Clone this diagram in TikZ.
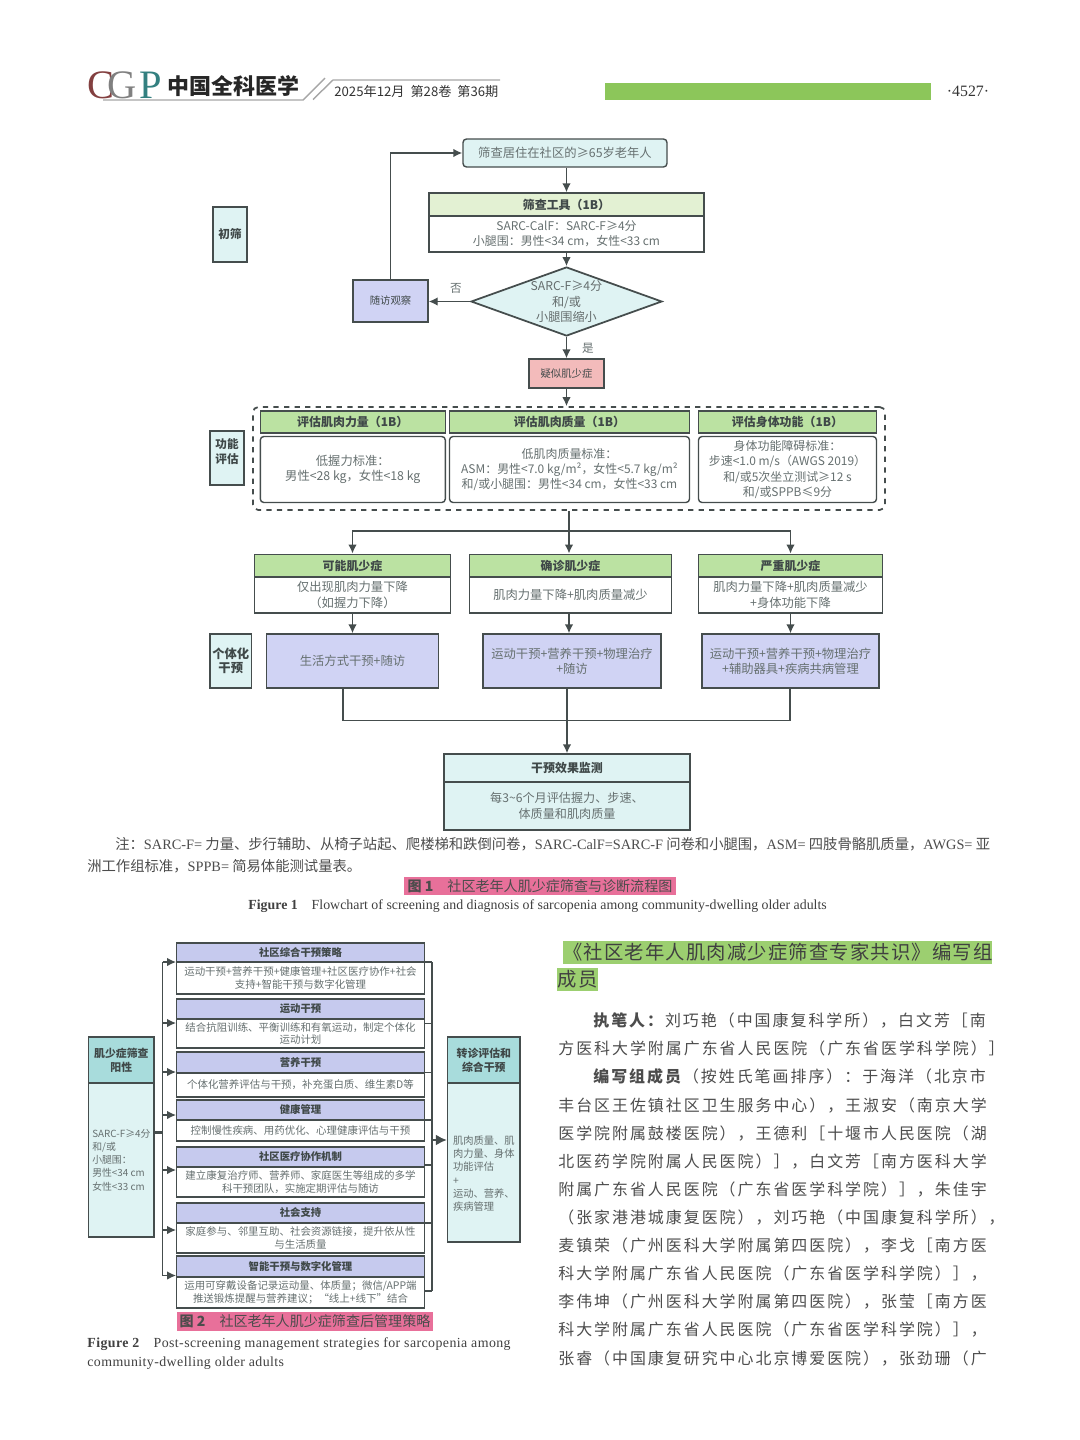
\documentclass[tikz,border=0pt]{standalone}
\usepackage{fontspec}
\usepackage{amsmath}
\setmainfont{Noto Sans CJK SC}
\newfontfamily\latfont{Liberation Serif}
\newfontfamily\spreadlat[LetterSpace=3]{Liberation Serif}
\newfontfamily\spreadfont[LetterSpace=12.5]{Noto Sans CJK SC}
\newfontfamily\titlefont[LetterSpace=6]{Noto Sans CJK SC}
\usetikzlibrary{positioning, calc, arrows.meta, shapes.geometric}
\definecolor{linegray}{HTML}{454D4D}
\definecolor{textgray}{HTML}{667070}
\definecolor{darkgray}{HTML}{3F4848}
\definecolor{paleteal}{HTML}{DFF3F3}
\definecolor{midteal}{HTML}{A8DCDC}
\definecolor{palegreen}{HTML}{E3F1D3}
\definecolor{midgreen}{HTML}{BBE2A2}
\definecolor{lilac}{HTML}{D0D3F4}
\definecolor{midlilac}{HTML}{C6CAEE}
\definecolor{rosebox}{HTML}{F3BBBB}
\definecolor{pinkcap}{HTML}{E8709A}
\definecolor{barmark}{HTML}{8CC65A}
\definecolor{softmark}{HTML}{9CCF70}
\newcommand{\lat}[1]{{\latfont #1}}

\begin{document}
\begin{tikzpicture}[
        link/.style={draw=linegray, line width=0.8pt},
        flow/.style={link, -{Latex[length=1.8mm,width=1.7mm]}},
        heavy/.style={draw=linegray, line width=1.5pt},
        frame/.style={draw=linegray, line width=0.8pt, inner sep=0pt, align=center},
        side/.style={frame, fill=paleteal, text=darkgray, font=\fontsize{6.6}{8.2}\selectfont\bfseries},
        head/.style={frame, fill=midgreen, text=darkgray, font=\fontsize{6.8}{8.6}\selectfont\bfseries},
        plain/.style={frame, fill=white, text=textgray, font=\fontsize{7}{8.7}\selectfont},
        care/.style={frame, fill=lilac, text=textgray, font=\fontsize{7}{8.7}\selectfont},
        strategy/.style={frame, fill=midlilac, text=darkgray, minimum width=4.95cm, font=\fontsize{5.9}{7.4}\selectfont\bfseries},
        detail/.style={frame, fill=white, text=textgray, minimum width=4.95cm, font=\fontsize{5.95}{7.3}\selectfont},
        caption/.style={inner sep=0pt, text=black!75, font=\fontsize{7.9}{9}\selectfont\latfont},
        note/.style={inner sep=0pt, anchor=west, text=black!70, font=\fontsize{8.15}{9}\selectfont},
        pinkbar/.style={fill=pinkcap, inner sep=0pt, text=black!70, font=\fontsize{8}{9}\selectfont}
    ]
        \useasboundingbox (0,0) rectangle (21.6,-28.8);

        % Journal header
        \node[inner sep=0pt, text=red!35!black!75, font=\fontsize{23}{23}\selectfont\latfont] (logoc) at (2.02,-1.7) {C};
        \node[inner sep=0pt, text=gray, font=\fontsize{23}{23}\selectfont\latfont] (logog) at (2.44,-1.7) {G};
        \node[inner sep=0pt, text=teal!60!gray, font=\fontsize{23}{23}\selectfont\latfont] (logop) at (3.01,-1.7) {P};
        \node[inner sep=0pt, text=black!85, font=\fontsize{12.5}{14}\selectfont\bfseries] (journal) at (4.67,-1.72) {中国全科医学};
        \draw[gray!70, line width=0.8pt] (2.06,-2.0) -- (6.06,-2.0) -- (6.5,-1.56);
        \draw[gray!70, line width=0.8pt] (6.26,-1.99) -- (6.66,-1.6) -- (10,-1.6);
        \node[note, text=black!80, font=\fontsize{7.5}{9}\selectfont] (issue) at (6.68,-1.82) {2025年12月\ \ 第28卷\ \ 第36期};
        \node[fill=barmark, minimum width=6.52cm, minimum height=0.34cm, inner sep=0pt] (bar) at (15.36,-1.83) {};
        \node[inner sep=0pt, text=black!80, font=\fontsize{9}{9}\selectfont\latfont] (folio) at (19.36,-1.83) {·4527·};

        % Screening column
        \node[frame, rounded corners=2pt, fill=paleteal, text=textgray, minimum width=4.08cm, minimum height=0.56cm, font=\fontsize{7}{9}\selectfont] (start) at (11.30,-3.06) {筛查居住在社区的≥65岁老年人};
        \node[head, fill=palegreen, minimum width=5.5cm, minimum height=0.46cm] (toolh) at (11.33,-4.09) {筛查工具（1B）};
        \node[plain, minimum width=5.5cm, minimum height=0.72cm, font=\fontsize{6.8}{8.7}\selectfont] (toolb) at (11.33,-4.68) {SARC-CalF：SARC-F≥4分\\小腿围：男性<34 cm，女性<33 cm};
        \node[diamond, draw=linegray, line width=1pt, fill=paleteal, aspect=2.77, inner sep=0pt, minimum width=3.82cm, minimum height=1.38cm, align=center, text=darkgray!80, font=\fontsize{6.9}{8.7}\selectfont] (check) at (11.33,-6.03) {SARC-F≥4分\\和/或\\小腿围缩小};
        \node[care, text=darkgray, minimum width=1.5cm, minimum height=0.84cm, font=\fontsize{5.9}{8}\selectfont] (follow) at (7.81,-6.02) {随访观察};
        \node[frame, fill=rosebox, text=darkgray, minimum width=1.5cm, minimum height=0.58cm, font=\fontsize{5.9}{8}\selectfont] (suspect) at (11.33,-7.47) {疑似肌少症};
        \node[inner sep=0pt, text=textgray, font=\fontsize{6.6}{8}\selectfont] (nolabel) at (9.12,-5.76) {否};
        \node[inner sep=0pt, text=textgray, font=\fontsize{6.6}{8}\selectfont] (yeslabel) at (11.76,-6.96) {是};

        % Stage labels
        \node[side, minimum width=0.68cm, minimum height=1.1cm] (stage1) at (4.60,-4.69) {初筛};
        \node[side, minimum width=0.68cm, minimum height=1.08cm] (stage2) at (4.54,-9.16) {功能\\评估\rule[-0.28cm]{0pt}{0pt}};
        \node[side, minimum width=0.83cm, minimum height=1.08cm, font=\fontsize{7}{8.2}\selectfont\bfseries] (stage3) at (4.615,-13.22) {个体化\\干预};

        % Assessment row
        \node[draw=linegray, line width=1pt, dashed, rounded corners=3pt, inner sep=0pt, minimum width=12.64cm, minimum height=2.06cm] (assess) at (11.38,-9.17) {};
        \node[head, minimum width=3.70cm, minimum height=0.44cm] (a1h) at (7.056,-8.44) {评估肌肉力量（1B）};
        \node[plain, rounded corners=2pt, minimum width=3.70cm, minimum height=1.32cm] (a1b) at (7.056,-9.39) {低握力标准：\\男性<28 kg，女性<18 kg};
        \node[head, minimum width=4.80cm, minimum height=0.44cm] (a2h) at (11.39,-8.44) {评估肌肉质量（1B）};
        \node[plain, rounded corners=2pt, minimum width=4.80cm, minimum height=1.32cm, font=\fontsize{6.8}{8.7}\selectfont] (a2b) at (11.39,-9.39) {低肌肉质量标准：\\ASM：男性<7.0 kg/m²，女性<5.7 kg/m²\\和/或小腿围：男性<34 cm，女性<33 cm};
        \node[head, minimum width=3.56cm, minimum height=0.44cm] (a3h) at (15.75,-8.44) {评估身体功能（1B）};
        \node[plain, rounded corners=2pt, minimum width=3.56cm, minimum height=1.32cm, font=\fontsize{6.8}{8.7}\selectfont] (a3b) at (15.75,-9.39) {身体功能障碍标准：\\步速<1.0 m/s（AWGS 2019）\\和/或5次坐立测试≥12 s\\和/或SPPB≤9分};

        % Diagnosis row
        \node[head, minimum width=3.92cm, minimum height=0.45cm] (d1h) at (7.05,-11.31) {可能肌少症};
        \node[plain, minimum width=3.92cm, minimum height=0.72cm] (d1b) at (7.05,-11.90) {仅出现肌肉力量下降\\（如握力下降）};
        \node[head, minimum width=4.05cm, minimum height=0.45cm] (d2h) at (11.41,-11.31) {确诊肌少症};
        \node[plain, minimum width=4.05cm, minimum height=0.72cm] (d2b) at (11.41,-11.90) {肌肉力量下降+肌肉质量减少};
        \node[head, minimum width=3.69cm, minimum height=0.45cm] (d3h) at (15.81,-11.31) {严重肌少症};
        \node[plain, minimum width=3.69cm, minimum height=0.72cm] (d3b) at (15.81,-11.90) {肌肉力量下降+肌肉质量减少\\+身体功能下降};

        % Intervention row
        \node[care, minimum width=3.43cm, minimum height=1.08cm] (i1) at (7.05,-13.22) {生活方式干预+随访};
        \node[care, minimum width=3.56cm, minimum height=1.08cm] (i2) at (11.44,-13.22) {运动干预+营养干预+物理治疗\\+随访};
        \node[care, minimum width=3.54cm, minimum height=1.08cm] (i3) at (15.81,-13.22) {运动干预+营养干预+物理治疗\\+辅助器具+疾病共病管理};

        % Monitoring box
        \node[frame, fill=paleteal, text=darkgray, minimum width=4.92cm, minimum height=0.56cm, font=\fontsize{6.8}{8.6}\selectfont\bfseries] (monh) at (11.34,-15.36) {干预效果监测};
        \node[frame, fill=paleteal, text=textgray, minimum width=4.92cm, minimum height=0.96cm, font=\fontsize{6.9}{8.7}\selectfont] (monb) at (11.34,-16.12) {每3\textasciitilde 6个月评估握力、步速、\\体质量和肌肉质量};

        % Connectors of figure 1
        \coordinate (split) at (11.38,-10.62);
        \coordinate (merge1) at (6.86,-14.41);
        \coordinate (merge3) at (15.80,-14.41);
        \draw[flow] (toolh.north |- start.south) -- (toolh.north);
        \draw[flow] (toolb.south) -- (check.north);
        \draw[flow] (check.south) -- (suspect.north);
        \draw[flow] (suspect.south) -- (suspect.south |- assess.north);
        \draw[flow] (check.west) -- (follow.east |- check.west);
        \draw[flow] (follow.north) |- (start.west);
        \draw[link] (assess.south) -- (split);
        \draw[flow] (split) -| (d1h.north);
        \draw[flow] (split) -| (d3h.north);
        \draw[flow] (split) -- (split |- d2h.north);
        \draw[flow] (d1b.south) -- (i1.north);
        \draw[flow] (split |- d2b.south) -- (split |- i2.north);
        \draw[flow] (d3b.south) -- (i3.north);
        \draw[link] (merge1 |- i1.south) -- (merge1) -- (merge3) -- (merge3 |- i3.south);
        \draw[flow] (monh.north |- i2.south) -- (monh.north);

        % Figure 1 note and captions
        \node[note] (note1) at (2.30,-16.88) {注：\lat{SARC-F=} 力量、步行辅助、从椅子站起、爬楼梯和跌倒问卷，\lat{SARC-CalF=SARC-F} 问卷和小腿围，\lat{ASM=} 四肢骨骼肌质量，\lat{AWGS=} 亚};
        \node[note] (note2) at (1.74,-17.32) {洲工作组标准，\lat{SPPB=} 简易体能测试量表。};
        \node[pinkbar, minimum width=5.44cm, minimum height=0.36cm] (cap1) at (10.80,-17.72) {\textbf{图 1}\quad 社区老年人肌少症筛查与诊断流程图};
        \node[caption, anchor=west] (fig1) at (4.96,-18.13) {\textbf{Figure 1}\quad Flowchart of screening and diagnosis of sarcopenia among community-dwelling older adults};

        % Figure 2 screening box
        \node[frame, fill=midteal, text=darkgray, minimum width=1.31cm, minimum height=0.92cm, font=\fontsize{6.2}{8}\selectfont\bfseries] (posh) at (2.427,-21.20) {肌少症筛查\\阳性};
        \node[frame, fill=paleteal, text=textgray, minimum width=1.31cm, minimum height=3.08cm, align=left, font=\fontsize{5.6}{7.5}\selectfont] (posb) at (2.427,-23.20) {SARC-F≥4分\\和/或\\小腿围：\\男性<34 cm\\女性<33 cm};

        % Figure 2 strategies
        \node[strategy, minimum height=0.38cm] (s1h) at (6.01,-19.05) {社区综合干预策略};
        \node[detail, minimum height=0.64cm] (s1b) at (6.01,-19.56) {运动干预+营养干预+健康管理+社区医疗协作+社会\\支持+智能干预与数字化管理};
        \node[strategy, minimum height=0.40cm] (s2h) at (6.01,-20.18) {运动干预};
        \node[detail, minimum height=0.58cm] (s2b) at (6.01,-20.67) {结合抗阻训练、平衡训练和有氧运动，制定个体化\\运动计划};
        \node[strategy, minimum height=0.42cm] (s3h) at (6.01,-21.25) {营养干预};
        \node[detail, minimum height=0.48cm] (s3b) at (6.01,-21.70) {个体化营养评估与干预，补充蛋白质、维生素D等};
        \node[strategy, minimum height=0.40cm] (s4h) at (6.01,-22.20) {健康管理};
        \node[detail, minimum height=0.42cm] (s4b) at (6.01,-22.61) {控制慢性疾病、用药优化、心理健康评估与干预};
        \node[strategy, minimum height=0.40cm] (s5h) at (6.01,-23.14) {社区医疗协作机制};
        \node[detail, minimum height=0.60cm] (s5b) at (6.01,-23.64) {建立康复治疗师、营养师、家庭医生等组成的多学\\科干预团队，实施定期评估与随访};
        \node[strategy, minimum height=0.40cm] (s6h) at (6.01,-24.26) {社会支持};
        \node[detail, minimum height=0.60cm] (s6b) at (6.01,-24.76) {家庭参与、邻里互助、社会资源链接，提升依从性\\与生活质量};
        \node[strategy, minimum height=0.42cm] (s7h) at (6.01,-25.33) {智能干预与数字化管理};
        \node[detail, minimum height=0.62cm] (s7b) at (6.01,-25.85) {运用可穿戴设备记录运动量、体质量；微信/APP端\\推送锻炼提醒与营养建议；“线上+线下”结合};

        % Figure 2 referral box
        \node[frame, fill=midteal, text=darkgray, minimum width=1.45cm, minimum height=0.92cm, font=\fontsize{6.2}{8}\selectfont\bfseries] (refh) at (9.677,-21.20) {转诊评估和\\综合干预};
        \node[frame, fill=paleteal, text=textgray, minimum width=1.45cm, minimum height=3.18cm, align=left, font=\fontsize{5.85}{7.5}\selectfont] (refb) at (9.677,-23.25) {\rule{0pt}{0.62cm}肌肉质量、肌\\肉力量、身体\\功能评估\\+\\运动、营养、\\疾病管理};

        % Left trunk
        \coordinate (l0) at (3.254,-22.654);
        \coordinate (l1) at (3.254,-19.24);
        \coordinate (l2) at (3.254,-20.46);
        \coordinate (l3) at (3.254,-21.44);
        \coordinate (l4) at (3.254,-22.30);
        \coordinate (l5) at (3.254,-23.40);
        \coordinate (l6) at (3.254,-24.60);
        \coordinate (l7) at (3.254,-25.51);
        \draw[heavy] (l0 -| posb.east) -- (l0);
        \draw[link] (l1) -- (l7);
        \draw[flow] (l1) -- (l1 -| s1b.west);
        \draw[flow] (l2) -- (l2 -| s2b.west);
        \draw[flow] (l3) -- (l3 -| s3b.west);
        \draw[flow] (l4) -- (l4 -| s4b.west);
        \draw[flow] (l5) -- (l5 -| s5b.west);
        \draw[flow] (l6) -- (l6 -| s6b.west);
        \draw[flow] (l7) -- (l7 -| s7b.west);

        % Right trunk
        \coordinate (r0) at (8.64,-22.80);
        \coordinate (r1) at (8.64,-19.24);
        \coordinate (r2) at (8.64,-20.47);
        \coordinate (r3) at (8.64,-21.45);
        \coordinate (r4) at (8.64,-22.40);
        \coordinate (r5) at (8.64,-23.30);
        \coordinate (r6) at (8.64,-24.46);
        \coordinate (r7) at (8.64,-25.82);
        \draw[link] (r1) -- (r7);
        \draw[link] (r1 -| s1b.east) -- (r1);
        \draw[link] (r2 -| s2b.east) -- (r2);
        \draw[link] (r3 -| s3b.east) -- (r3);
        \draw[link] (r4 -| s4b.east) -- (r4);
        \draw[link] (r5 -| s5b.east) -- (r5);
        \draw[link] (r6 -| s6b.east) -- (r6);
        \draw[link] (r7 -| s7b.east) -- (r7);
        \draw[heavy, -{Latex[length=2.2mm,width=2.2mm]}] (r0) -- (r0 -| refb.west);

        % Figure 2 captions
        \node[pinkbar, minimum width=5.12cm, minimum height=0.38cm] (cap2) at (6.10,-26.43) {\textbf{图 2}\quad 社区老年人肌少症筛查后管理策略};
        \node[caption, anchor=west, font=\fontsize{7.9}{9}\selectfont\spreadlat] (fig2a) at (1.74,-26.88) {\textbf{Figure 2}\quad Post-screening management strategies for sarcopenia among};
        \node[caption, anchor=west, font=\fontsize{7.9}{9}\selectfont\spreadlat] (fig2b) at (1.74,-27.26) {community-dwelling older adults};

        % Right column text
        \node[fill=softmark, inner sep=0pt, minimum width=8.58cm, minimum height=0.46cm] (mark1) at (15.55,-19.05) {};
        \node[fill=softmark, inner sep=0pt, minimum width=0.82cm, minimum height=0.46cm] (mark2) at (11.55,-19.59) {};
        \node[inner sep=0pt, anchor=west, text=black!75, font=\fontsize{11}{13}\selectfont\titlefont] (head1) at (11.26,-19.05) {《社区老年人肌肉减少症筛查专家共识》编写组};
        \node[inner sep=0pt, anchor=west, text=black!75, font=\fontsize{11}{13}\selectfont\titlefont] (head2) at (11.15,-19.59) {成员};
        \node[inner sep=0pt, anchor=north west, align=left, text=black!70, font=\fontsize{9.07}{16}\selectfont\spreadfont] (members) at (11.16,-20.25) {%
            \hspace*{0.7cm}\textbf{执笔人：}刘巧艳（中国康复科学所），白文芳［南\\
            方医科大学附属广东省人民医院（广东省医学科学院）］\\
            \hspace*{0.7cm}\textbf{编写组成员}（按姓氏笔画排序）：于海洋（北京市\\
            丰台区王佐镇社区卫生服务中心），王淑安（南京大学\\
            医学院附属鼓楼医院），王德利［十堰市人民医院（湖\\
            北医药学院附属人民医院）］，白文芳［南方医科大学\\
            附属广东省人民医院（广东省医学科学院）］，朱佳宇\\
            （张家港港城康复医院），刘巧艳（中国康复科学所），\\
            麦镇荣（广州医科大学附属第四医院），李戈［南方医\\
            科大学附属广东省人民医院（广东省医学科学院）］，\\
            李伟坤（广州医科大学附属第四医院），张莹［南方医\\
            科大学附属广东省人民医院（广东省医学科学院）］，\\
            张睿（中国康复研究中心北京博爱医院），张劲珊（广};

    \end{tikzpicture}
\end{document}
